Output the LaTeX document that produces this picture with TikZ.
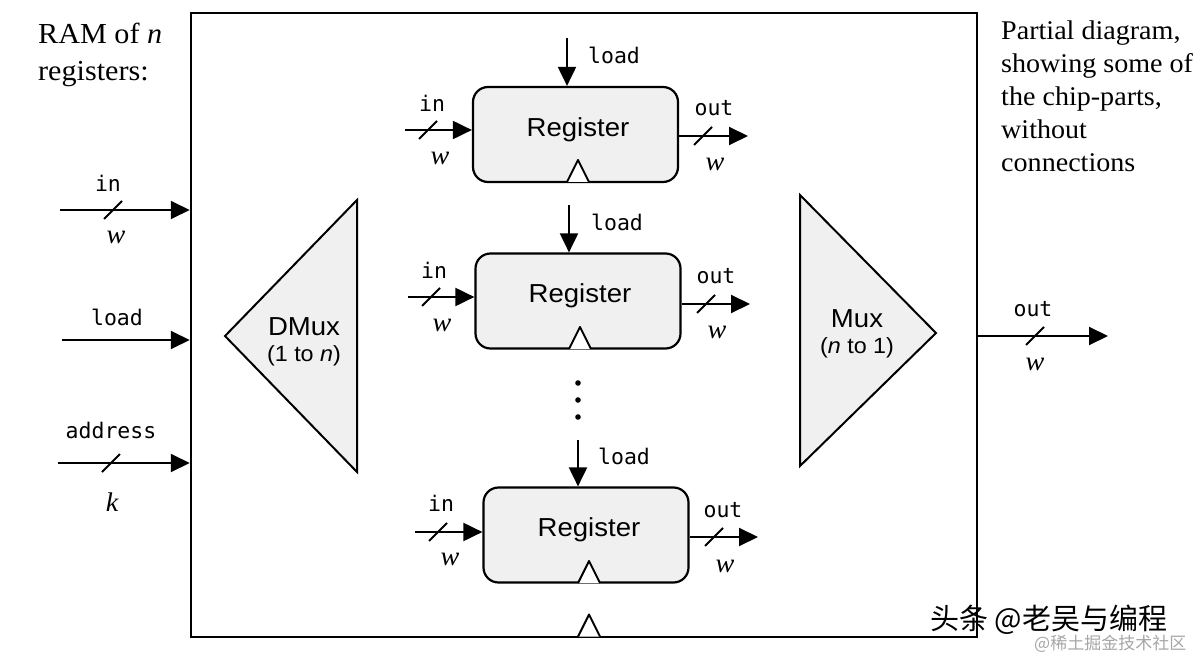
\documentclass[tikz,border=0pt]{standalone}
\usepackage{fontspec}
\setmainfont{Liberation Serif}[FakeStretch=1.04]
\setsansfont{Liberation Sans}[FakeStretch=1.06]
\setmonofont{DejaVu Sans Mono}
\newfontfamily\cjk{Noto Sans CJK SC}
\usetikzlibrary{arrows.meta}
\definecolor{partfill}{HTML}{F0F0F0}
\begin{document}
\begin{tikzpicture}[x=1pt,y=-1pt,
  sig/.style={line width=2pt,-{Triangle[length=19pt,width=18pt]}},
  code/.style={font=\fontsize{21.5}{24}\selectfont\ttfamily,inner sep=0pt},
  wlab/.style={font=\fontsize{27}{28}\selectfont\itshape,inner sep=0pt},
  regbox/.style={draw,line width=2.2pt,rounded corners=15pt,fill=partfill,
    minimum width=205pt,minimum height=95pt,inner sep=0pt},
  regtext/.style={font=\fontsize{26}{28}\selectfont\sffamily,inner sep=0pt},
  parttext/.style={font=\fontsize{26}{29}\selectfont\sffamily,align=center,inner sep=0pt},
  note/.style={font=\fontsize{27}{33}\selectfont,align=left,inner sep=0pt},
  bus/.pic={\draw[line width=2pt] (-9,9) -- (9,-9);},
  clk/.pic={\draw[line width=2pt,fill=white,line join=round] (-11,0) -- (0,-22) -- (11,0);}
]
\useasboundingbox (0,0) rectangle (1200,658);

% main chip box
\node[draw,line width=2.5pt,minimum width=786pt,minimum height=624pt,inner sep=0pt]
  (chip) at (584,325) {};
\pic at (589,636.5) {clk};

% side notes
\node[note,anchor=north west,font=\fontsize{29}{37}\selectfont] (ramnote) at (38,23)
  {RAM of \textit{n}\\registers:};
\node[note,anchor=north west] (partnote) at (1001,21)
  {Partial diagram,\\showing some of\\the chip-parts,\\without\\connections};

% chip inputs
\coordinate (inS) at (60,210);
\coordinate (loadS) at (62,340);
\coordinate (addrS) at (58,463);
\draw[sig] (inS) -- (inS -| chip.west);
\draw[sig] (loadS) -- (loadS -| chip.west);
\draw[sig] (addrS) -- (addrS -| chip.west);
\pic at (113,210) {bus};
\pic at (111,463) {bus};
\node[code] (inL) at (108,183) {in};
\node[wlab] (inW) at (116,237) {w};
\node[code] (loadL) at (117,317) {load};
\node[code] (addrL) at (111,430) {address};
\node[wlab] (addrW) at (112,502) {k};

% chip output
\coordinate (outE) at (1108,336);
\draw[sig] (outE -| chip.east) -- (outE);
\pic at (1035,336) {bus};
\node[code] (outL) at (1033,309) {out};
\node[wlab] (outW) at (1035,364) {w};

% DMux
\draw[line width=2pt,fill=partfill,line join=miter] (225,336) -- (357,200) -- (357,472) -- cycle;
\node[parttext] (dmux) at (304,342) {DMux\\[-3pt]{\fontsize{22}{24}\selectfont(1 to \textit{n})}};

% Mux
\draw[line width=2pt,fill=partfill,line join=miter] (800,195) -- (936,333) -- (800,466) -- cycle;
\node[parttext] (mux) at (857,334) {Mux\\[-3pt]{\fontsize{22}{24}\selectfont(\textit{n} to 1)}};

% Register 1
\node[regbox] (r1) at (575.5,134.5) {};
\node[regtext] (r1t) at (578,130) {Register};
\pic at (578,182) {clk};
\coordinate (r1load) at (567,38);
\draw[sig] (r1load) -- (r1load |- r1.north);
\node[code] (r1loadL) at (614,55) {load};
\coordinate (r1in) at (405,130);
\draw[sig] (r1in) -- (r1in -| r1.west);
\pic at (428,130) {bus};
\node[code] (r1inL) at (432,103) {in};
\node[wlab] (r1inW) at (440,158) {w};
\coordinate (r1out) at (748,136);
\draw[sig] (r1out -| r1.east) -- (r1out);
\pic at (703,136) {bus};
\node[code] (r1outL) at (714,108) {out};
\node[wlab] (r1outW) at (715,164) {w};

% Register 2
\node[regbox] (r2) at (578,301) {};
\node[regtext] (r2t) at (580,296) {Register};
\pic at (580,349) {clk};
\coordinate (r2load) at (569,205);
\draw[sig] (r2load) -- (r2load |- r2.north);
\node[code] (r2loadL) at (617,222) {load};
\coordinate (r2in) at (408,297);
\draw[sig] (r2in) -- (r2in -| r2.west);
\pic at (431,297) {bus};
\node[code] (r2inL) at (434,270) {in};
\node[wlab] (r2inW) at (442,325) {w};
\coordinate (r2out) at (750,304);
\draw[sig] (r2out -| r2.east) -- (r2out);
\pic at (706,304) {bus};
\node[code] (r2outL) at (716,276) {out};
\node[wlab] (r2outW) at (717,332) {w};

% dots
\foreach \yy in {383,400,417} \fill (578,\yy) circle (2.8pt);

% Register 3
\node[regbox] (r3) at (586,535) {};
\node[regtext] (r3t) at (589,530) {Register};
\pic at (589,583) {clk};
\coordinate (r3load) at (578,440);
\draw[sig] (r3load) -- (r3load |- r3.north);
\node[code] (r3loadL) at (624,456) {load};
\coordinate (r3in) at (415,532);
\draw[sig] (r3in) -- (r3in -| r3.west);
\pic at (438,532) {bus};
\node[code] (r3inL) at (441,503) {in};
\node[wlab] (r3inW) at (450,559) {w};
\coordinate (r3out) at (758,537);
\draw[sig] (r3out -| r3.east) -- (r3out);
\pic at (714,537) {bus};
\node[code] (r3outL) at (723,510) {out};
\node[wlab] (r3outW) at (725,566) {w};

% watermark
\node[font=\fontsize{29}{30}\selectfont\cjk,inner sep=0pt,anchor=west] (wm1) at (930,620) {头条 @老吴与编程};
\node[font=\fontsize{17}{20}\selectfont\cjk,text=black!35,inner sep=0pt,anchor=west] (wm2) at (1034,644) {@稀土掘金技术社区};
\end{tikzpicture}
\end{document}
